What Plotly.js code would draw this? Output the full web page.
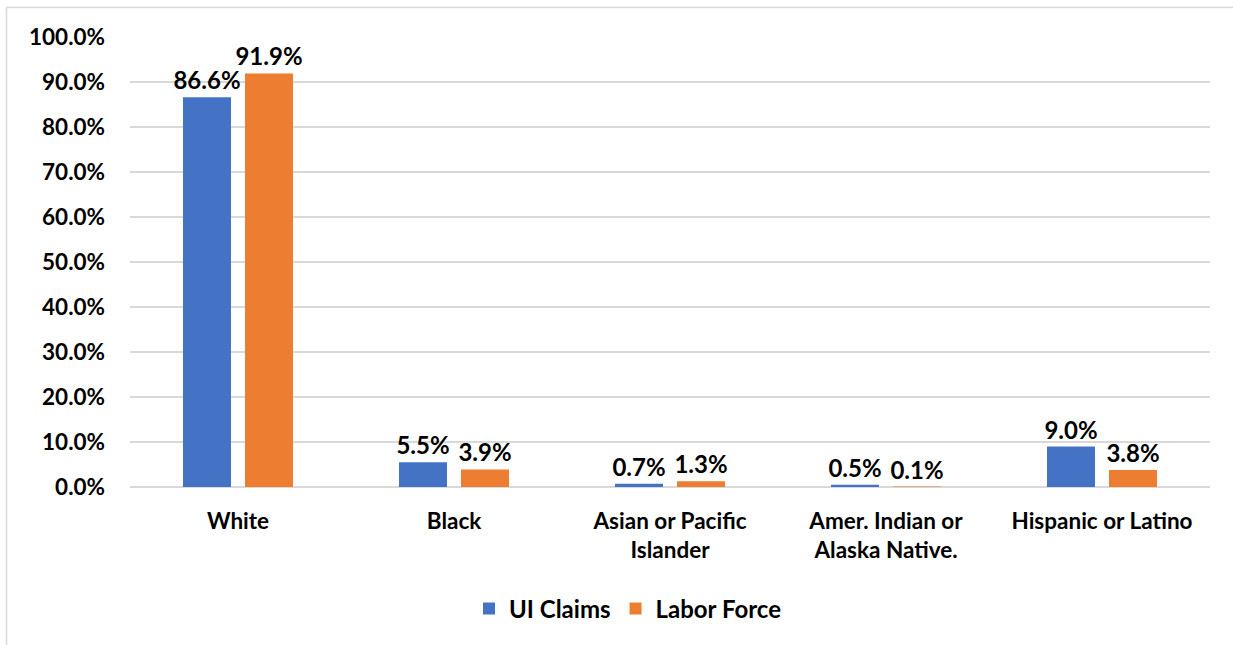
<!DOCTYPE html>
<html>
<head>
<meta charset="utf-8">
<script src="https://cdn.plot.ly/plotly-3.0.1.min.js"></script>
<style>html,body{margin:0;padding:0;background:#fff;}#chart{width:1233px;height:645px;}</style>
</head>
<body>
<div id="chart"></div>
<script>
const categories = ["White", "Black", "Asian or Pacific<br>Islander", "Amer. Indian or<br>Alaska Native.", "Hispanic or Latino"];
const uiClaims = [86.6, 5.5, 0.7, 0.5, 9.0];
const laborForce = [91.9, 3.9, 1.3, 0.1, 3.8];
const seriesNames = ["UI Claims", "Labor Force"];
const yTicks = [0, 10, 20, 30, 40, 50, 60, 70, 80, 90, 100];

const fontFam = "Lato, 'Open Sans', sans-serif";
const FS = 22.5;
const fmt = v => v.toFixed(1) + "%";

const mk = (name, vals, color) => ({
  type: "bar", name: name, x: categories, y: vals,
  marker: {color: color},
  text: vals.map(fmt), textposition: "outside", cliponaxis: false, constraintext: "none",
  textfont: {family: fontFam, size: 24, color: "#000", weight: "bold"},
  hoverinfo: "skip"
});

const data = [mk(seriesNames[0], uiClaims, "#4472C4"), mk(seriesNames[1], laborForce, "#ED7D31")];

const L = 130, R = 23, T = 37, B = 158, W = 1233, H = 645;
const pw = W - L - R, ph = H - T - B;
const px = x => (x - L) / pw;
const py = y => (H - B - y) / ph;

const layout = {
  width: W, height: H,
  margin: {l: L, r: R, t: T, b: B, pad: 0},
  paper_bgcolor: "#fff", plot_bgcolor: "#fff",
  font: {family: fontFam, size: FS, color: "#000", weight: "bold"},
  barmode: "group", bargap: 0.426, bargroupgap: 0.226,
  showlegend: true,
  legend: {orientation: "h", x: px(628), xanchor: "center", y: py(609), yanchor: "middle",
    font: {family: fontFam, size: 24, color: "#000", weight: "bold"}, itemwidth: 30, traceorder: "normal"},
  xaxis: {type: "category", showline: false, ticks: "", showgrid: false, zeroline: false, ticklabelstandoff: 18,
    tickfont: {family: fontFam, size: FS, color: "#000", weight: "bold"}},
  yaxis: {range: [0, 100], tickvals: yTicks, ticktext: yTicks.map(v => v.toFixed(1) + "%"),
    showgrid: true, gridcolor: "#d9d9d9", gridwidth: 1.5, zeroline: true, zerolinecolor: "#d9d9d9", zerolinewidth: 2,
    showline: false, ticks: "", ticklabelstandoff: 24,
    tickfont: {family: fontFam, size: FS, color: "#000", weight: "bold"}},
  shapes: [
    {type: "line", xref: "paper", yref: "paper", x0: px(6), x1: px(1240), y0: py(7.5), y1: py(7.5), line: {color: "#d9d9d9", width: 1.5}},
    {type: "line", xref: "paper", yref: "paper", x0: px(6.5), x1: px(6.5), y0: py(7.5), y1: py(650), line: {color: "#d9d9d9", width: 1.5}}
  ]
};

Plotly.newPlot("chart", data, layout, {displayModeBar: false, staticPlot: true});
</script>
</body>
</html>
